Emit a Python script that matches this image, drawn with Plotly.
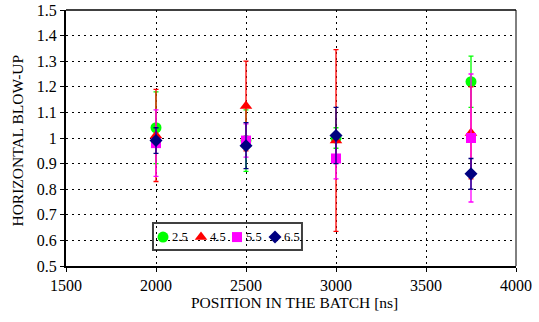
import plotly.graph_objects as go

# Bunch positions along the batch [ns]
positions = [2000, 2500, 3000, 3750]

# Horizontal blow-up per setting, with symmetric errors
blowup_25 = [1.04, 0.99, 1.00, 1.22]
err_25 = [0.14, 0.12, 0.04, 0.10]

blowup_45 = [1.01, 1.125, 0.99, 1.02]
err_45 = [0.18, 0.175, 0.355, 0.18]

blowup_55 = [0.98, 0.99, 0.92, 1.00]
err_55 = [0.13, 0.065, 0.08, 0.25]

blowup_65 = [0.99, 0.97, 1.01, 0.86]
err_65 = [0.05, 0.09, 0.11, 0.06]

series = [
    ("2.5", blowup_25, err_25, "#00FF00", "circle", 11),
    ("4.5", blowup_45, err_45, "#FF0000", "triangle-up", 11),
    ("5.5", blowup_55, err_55, "#FF00FF", "square", 10),
    ("6.5", blowup_65, err_65, "#000080", "diamond", 10),
]

serif = "Liberation Serif, Times New Roman, serif"

fig = go.Figure()
for name, vals, errs, color, symbol, size in series:
    fig.add_trace(go.Scatter(
        x=positions, y=vals, name=name, mode="markers", showlegend=False,
        marker=dict(color=color, symbol=symbol, size=size, line=dict(width=0)),
        error_y=dict(type="data", array=errs, visible=True, color=color,
                     thickness=1.3, width=2.5),
    ))

# Compact legend box: symbols on an overlay axis spanning [0, 1], labels as annotations
key_x = [0.2156, 0.300, 0.380, 0.4644]
key_y = 0.113
annotations = []
for (name, _, _, color, symbol, size), kx in zip(series, key_x):
    fig.add_trace(go.Scatter(
        x=[kx], y=[key_y], xaxis="x2", yaxis="y2", mode="markers", showlegend=False,
        hoverinfo="skip",
        marker=dict(color=color, symbol=symbol, size=size, line=dict(width=0)),
    ))
    annotations.append(dict(
        x=kx + 0.017, y=key_y, xref="paper", yref="paper", xanchor="left", yanchor="middle",
        text=name, showarrow=False, borderpad=0,
        font=dict(family=serif, size=12.5, color="#000000"),
    ))

# Axis titles
annotations.append(dict(
    x=0.507, y=-0.143, xref="paper", yref="paper", xanchor="center", yanchor="middle",
    text="POSITION IN THE BATCH [ns]", showarrow=False,
    font=dict(family=serif, size=15.5, color="#000000"),
))
annotations.append(dict(
    x=-0.1067, y=0.49, xref="paper", yref="paper", xanchor="center", yanchor="middle",
    text="HORIZONTAL BLOW-UP", textangle=-90, showarrow=False,
    font=dict(family=serif, size=15.5, color="#000000"),
))

grid = dict(showgrid=True, gridcolor="#000000", griddash="2px,4px", gridwidth=1)

fig.update_layout(
    width=539, height=322,
    margin=dict(l=66, r=23, t=10, b=56),
    paper_bgcolor="white", plot_bgcolor="white",
    font=dict(family=serif, size=16, color="#000000"),
    showlegend=False,
    xaxis=dict(
        range=[1500, 4000], tickvals=[1500, 2000, 2500, 3000, 3500, 4000],
        showline=True, linecolor="#000000", linewidth=2, mirror=False,
        ticks="outside", ticklen=4, tickcolor="#000000",
        zeroline=False, automargin=False, **grid,
    ),
    yaxis=dict(
        range=[0.5, 1.5], tickvals=[0.5, 0.6, 0.7, 0.8, 0.9, 1.0, 1.1, 1.2, 1.3, 1.4, 1.5],
        ticktext=["0.5", "0.6", "0.7", "0.8", "0.9", "1", "1.1", "1.2", "1.3", "1.4", "1.5"],
        showline=True, linecolor="#000000", linewidth=2, mirror=False,
        ticks="outside", ticklen=4, tickcolor="#000000",
        zeroline=False, automargin=False, **grid,
    ),
    xaxis2=dict(overlaying="x", range=[0, 1], visible=False, fixedrange=True),
    yaxis2=dict(overlaying="y", range=[0, 1], visible=False, fixedrange=True),
    annotations=annotations,
    shapes=[
        dict(type="rect", xref="paper", yref="paper", x0=0.1933, x1=0.5244, y0=0.0625, y1=0.168,
             fillcolor="white", line=dict(color="#404040", width=2), layer="between"),
        dict(type="line", xref="paper", yref="paper", x0=0, x1=1, y0=1, y1=1,
             line=dict(color="#000000", width=1.5)),
        dict(type="line", xref="paper", yref="paper", x0=1, x1=1, y0=0, y1=1,
             line=dict(color="#000000", width=1)),
    ],
)

fig.write_html("out.html")
